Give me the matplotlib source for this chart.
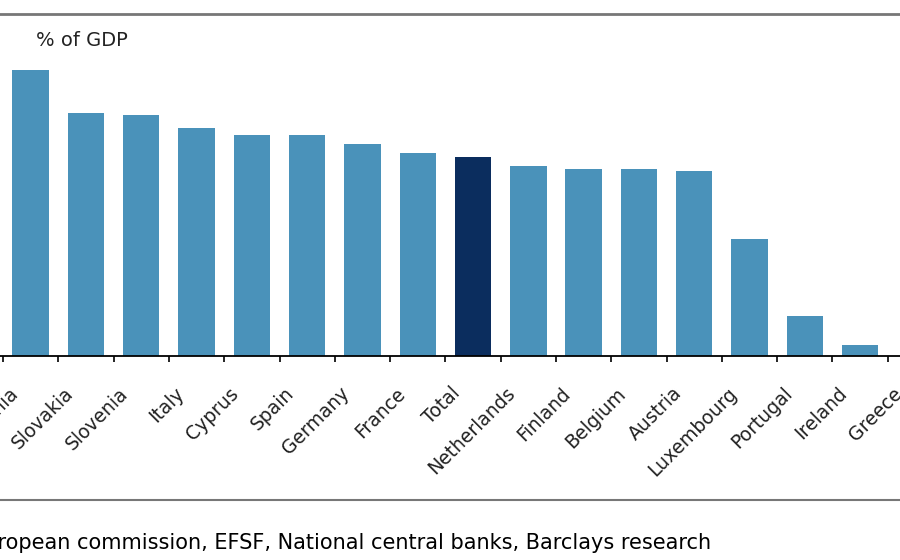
import matplotlib.pyplot as plt
import matplotlib.transforms as mtransforms
from matplotlib.lines import Line2D

# Значення (% ВВП)
countries = ['Estonia', 'Slovakia', 'Slovenia', 'Italy', 'Cyprus', 'Spain', 'Germany',
             'France', 'Total', 'Netherlands', 'Finland', 'Belgium', 'Austria',
             'Luxembourg', 'Portugal', 'Ireland', 'Greece']
values = [4.77, 4.05, 4.02, 3.80, 3.68, 3.68, 3.53, 3.38, 3.32, 3.17, 3.12, 3.12,
          3.08, 1.95, 0.67, 0.18, 0.0]
highlight = 'Total'

W, H = 900, 560
fig = plt.figure(figsize=(9, 5.6), dpi=100)

# Вісь ширша за фігуру: ліва та права частини обрізані, як на оригіналі
px_unit = 55.3
left_px, right_px = -60, 950
ax = fig.add_axes([left_px / W, (H - 356) / H, (right_px - left_px) / W, (356 - 40) / H])

colors = ['#0b2d5e' if c == highlight else '#4a92ba' for c in countries]
x = list(range(len(countries)))
ax.bar(x, values, width=0.66, color=colors)

x0 = -0.5 - (3 - left_px) / px_unit
ax.set_xlim(x0, x0 + (right_px - left_px) / px_unit)
ax.set_ylim(0, 316 / 60)

# Засічки на межах категорій, підписи по центру
ax.set_xticks([i - 0.5 for i in range(len(countries) + 1)])
ax.set_xticklabels([])
ax.tick_params(axis='x', which='major', direction='out', length=4.5, width=1.2, color='black')
ax.set_xticks(x, minor=True)
ax.set_xticklabels(countries, minor=True, rotation=45, ha='right', fontsize=13.5, color='#222222')
ax.tick_params(axis='x', which='minor', length=0, pad=20)
shift = mtransforms.ScaledTranslation(-9 / 100, 0, fig.dpi_scale_trans)
for lbl in ax.get_xticklabels(minor=True):
    lbl.set_transform(lbl.get_transform() + shift)
ax.set_yticks([])

for s in ['top', 'right', 'left']:
    ax.spines[s].set_visible(False)
ax.spines['bottom'].set_linewidth(1.3)

fig.text(36 / W, 1 - 40 / H, '% of GDP', fontsize=14, va='center', ha='left', color='#222222')

# Горизонтальні лінії рамки
fig.add_artist(Line2D([0, 1], [1 - 13.5 / H] * 2, color='#777777', lw=2, transform=fig.transFigure))
fig.add_artist(Line2D([0, 1], [1 - 500 / H] * 2, color='#777777', lw=1.5, transform=fig.transFigure))

fig.text(711 / W, 1 - 543 / H, 'Source: European commission, EFSF, National central banks, Barclays research',
         fontsize=15, family='DejaVu Sans', ha='right', va='center', color='black')

fig.savefig('out.png', dpi=100)
